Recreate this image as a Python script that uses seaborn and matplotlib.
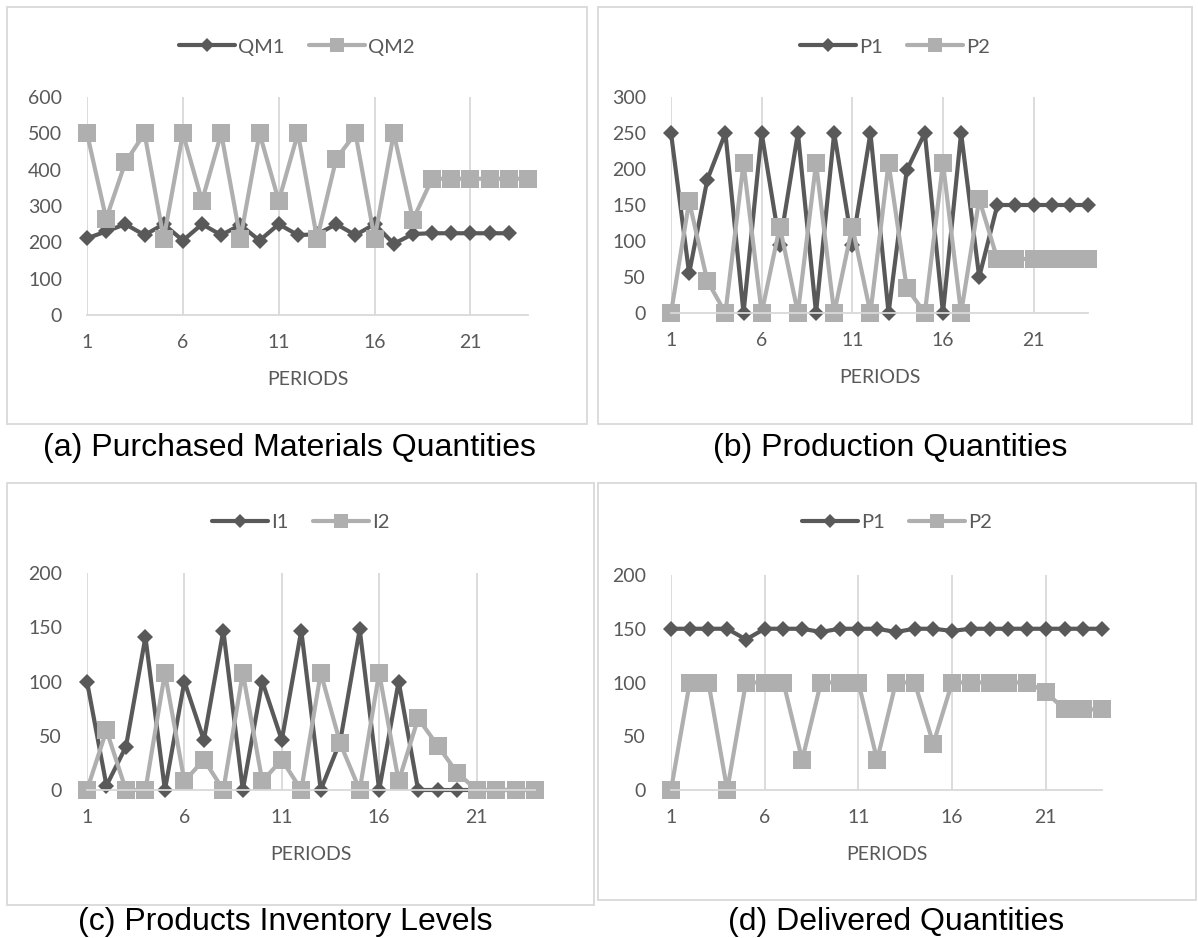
import seaborn as sns
import pandas as pd
import matplotlib.pyplot as plt
from matplotlib.patches import Rectangle
from matplotlib.lines import Line2D

# values, one list per series
periods = list(range(1, 25))
qm1 = [211, 230, 250, 220, 250, 205, 250, 220, 248, 205, 250, 220, 222, 250, 220, 250,
       196, 223, 225, 225, 225, 225, 225]
qm2 = [500, 265, 420, 500, 210, 500, 314, 500, 210, 500, 314, 500, 210, 430, 500, 210,
       500, 262, 375, 375, 375, 375, 375, 375]
p1 = [250, 55, 185, 250, 0, 250, 95, 250, 0, 250, 95, 250, 0, 198, 250, 0,
      250, 50, 150, 150, 150, 150, 150, 150]
p2 = [0, 155, 45, 0, 208, 0, 120, 0, 208, 0, 120, 0, 208, 35, 0, 208,
      0, 158, 75, 75, 75, 75, 75, 75]
i1 = [100, 4, 40, 141, 0, 100, 46, 147, 0, 100, 46, 147, 0, 45, 148, 0,
      100, 0, 0, 0, 0, 0, 0, 0]
i2 = [0, 55, 0, 0, 108, 8, 28, 0, 108, 8, 28, 0, 108, 43, 0, 108,
      8, 66, 41, 16, 0, 0, 0, 0]
d1 = [150, 150, 150, 150, 140, 150, 150, 150, 147, 150, 150, 150, 147, 150, 150, 148,
      150, 150, 150, 150, 150, 150, 150, 150]
d2 = [0, 100, 100, 0, 100, 100, 100, 28, 100, 100, 100, 28, 100, 100, 43, 100,
      100, 100, 100, 100, 91, 75, 75, 75]

xticks = [1, 6, 11, 16, 21]
captions = ["(a) Purchased Materials Quantities", "(b) Production Quantities",
            "(c) Products Inventory Levels", "(d) Delivered Quantities"]

DARK = "#595959"
LIGHT = "#afafaf"
GRID = "#d9d9d9"
W, H = 1198, 938

sns.set_style("white")
plt.rcParams["font.family"] = ["Lato", "DejaVu Sans"]

fig = plt.figure(figsize=(W / 100, H / 100), dpi=100)


def px_axes(left, right, bottom, top):
    return fig.add_axes([left / W, 1 - bottom / H, (right - left) / W, (bottom - top) / H])


panels = [
    # series, names, ymax, ystep, axes px, box px, caption x, legend y, caption baseline
    ((qm1, qm2), ("QM1", "QM2"), 600, 100, (87, 528, 315, 97), (7, 7, 587, 424), 289, 47, 456),
    ((p1, p2), ("P1", "P2"), 300, 50, (671, 1088, 313, 97), (598, 7, 1192, 424), 890, 47, 456),
    ((i1, i2), ("I1", "I2"), 200, 50, (87, 535, 790, 573), (7, 483, 594, 905), 285, 522, 930),
    ((d1, d2), ("P1", "P2"), 200, 50, (671, 1102, 790, 575), (598, 483, 1196, 900), 896, 522, 930),
]

for k, (series, names, ymax, ystep, apx, bpx, capx, legy, capy) in enumerate(panels):
    # chart area frame
    x0, y0, x1, y1 = bpx
    fig.patches.append(Rectangle((x0 / W, 1 - y1 / H), (x1 - x0) / W, (y1 - y0) / H,
                                 transform=fig.transFigure, fill=False,
                                 edgecolor=GRID, linewidth=1.3))

    ax = px_axes(*apx)
    df = pd.concat([
        pd.DataFrame({"period": periods[:len(s)], "value": s, "series": n})
        for s, n in zip(series, names)
    ])
    sns.lineplot(data=df, x="period", y="value", hue="series", style="series",
                 palette={names[0]: DARK, names[1]: LIGHT},
                 markers={names[0]: "D", names[1]: "s"},
                 dashes=False, ax=ax, linewidth=3.0, legend=False,
                 markeredgewidth=0)
    # marker sizes differ per series
    for line, ms in zip(ax.get_lines(), (8.5, 12.5)):
        line.set_markersize(ms)
        line.set_clip_on(False)

    ax.set_xlim(1, 24)
    ax.set_ylim(0, ymax)
    ax.set_xticks(xticks)
    ax.set_yticks(range(0, ymax + 1, ystep))
    ax.grid(axis="x", color=GRID, linewidth=1.3)
    ax.grid(axis="y", visible=False)
    ax.set_axisbelow(True)
    for side in ("left", "right", "top"):
        ax.spines[side].set_visible(False)
    ax.spines["bottom"].set_color(GRID)
    ax.spines["bottom"].set_linewidth(1.3)
    ax.tick_params(axis="x", length=0, pad=14, labelsize=14, labelcolor=DARK)
    ax.tick_params(axis="y", length=0, pad=18, labelsize=14, labelcolor=DARK)
    ax.set_xlabel("PERIODS", fontsize=14, color=DARK, labelpad=14)
    ax.set_ylabel("")

    handles = [
        Line2D([], [], color=DARK, linewidth=3.0, marker="D", markersize=7, markeredgewidth=0),
        Line2D([], [], color=LIGHT, linewidth=3.0, marker="s", markersize=9.5, markeredgewidth=0),
    ]
    legx = (x0 + x1) / 2
    fig.legend(handles, names, loc="center", bbox_to_anchor=(legx / W, 1 - legy / H),
               ncol=2, frameon=False, fontsize=14.5, handlelength=2.8,
               handletextpad=0.15, columnspacing=1.2, labelcolor=DARK)

    fig.text(capx / W, 1 - capy / H, captions[k], ha="center", va="baseline",
             fontsize=23, family=["Liberation Sans", "DejaVu Sans"], color="black")

plt.savefig("out.png", dpi=100)
